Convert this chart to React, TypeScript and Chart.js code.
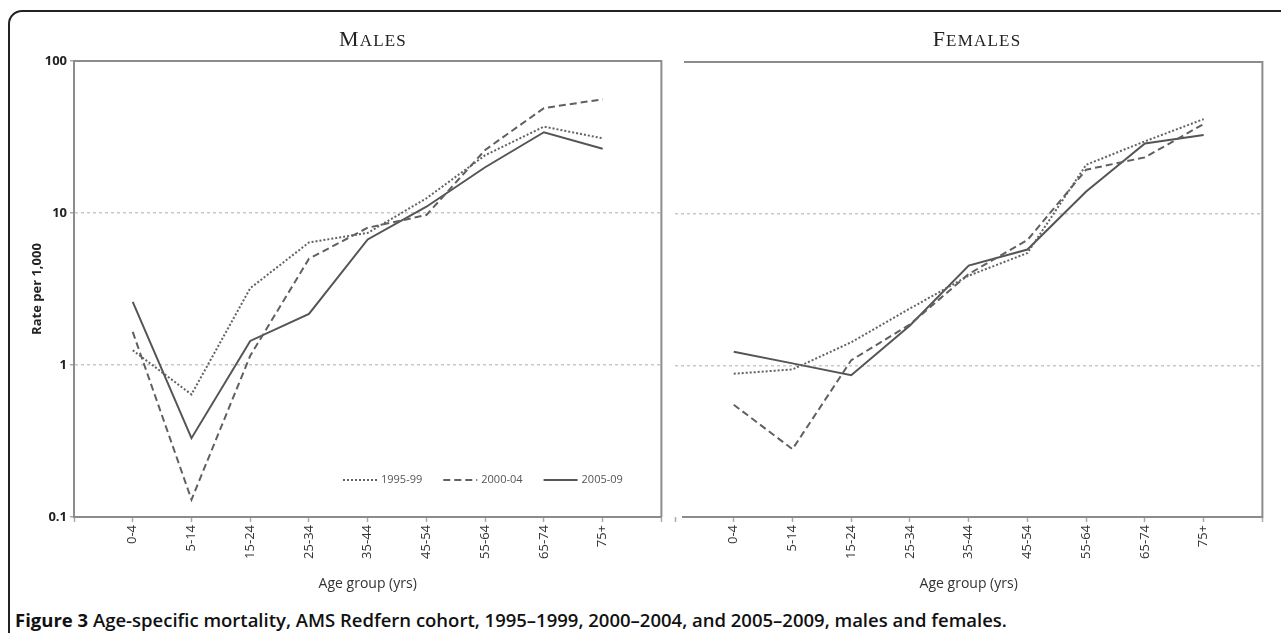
import React, { useEffect, useRef } from 'react';
import { Chart, registerables } from 'chart.js';

Chart.register(...registerables);

// ---------- data ----------
const categories = ['0-4', '5-14', '15-24', '25-34', '35-44', '45-54', '55-64', '65-74', '75+'];
const seriesLabels = ['1995-99', '2000-04', '2005-09'];

const males1995 = [1.25, 0.64, 3.2, 6.4, 7.4, 12.5, 24, 37, 31];
const males2000 = [1.65, 0.13, 1.15, 5.0, 8.0, 9.7, 26, 49, 56];
const males2005 = [2.6, 0.33, 1.44, 2.17, 6.7, 11, 20, 34, 26.5];

const females1995 = [0.88, 0.94, 1.42, 2.37, 3.9, 5.5, 21, 30, 42];
const females2000 = [0.55, 0.28, 1.08, 1.86, 4.0, 6.7, 19.5, 23.5, 39];
const females2005 = [1.23, 1.03, 0.86, 1.83, 4.55, 5.8, 14, 29, 33];

const yTickValues = [0.1, 1, 10, 100];
const yTickLabels = ['0.1', '1', '10', '100'];
const gridValues = [1, 10];

const panelTitles = ['Males', 'Females'];
const xAxisTitle = 'Age group (yrs)';
const yAxisTitle = 'Rate per 1,000';
const captionBold = 'Figure 3';
const captionText =
  ' Age-specific mortality, AMS Redfern cohort, 1995\u20131999, 2000\u20132004, and 2005\u20132009, males and females.';

// ---------- styles ----------
const SANS = '"Open Sans", "DejaVu Sans", sans-serif';
const SERIF = '"Liberation Serif", "DejaVu Serif", serif';
const AXIS_GRAY = '#8c8c8c';
const seriesStyles = [
  { color: '#626262', dash: [2, 2], width: 2 },
  { color: '#606060', dash: [7, 4], width: 2 },
  { color: '#555555', dash: [] as number[], width: 2 },
];

const CANVAS_H = 600;
const PLOT_BOTTOM = 517;

const framePlugin = {
  id: 'frame',
  afterDraw(chart: any, _args: any, opts: any) {
    const { ctx, chartArea } = chart;
    const { left, right, top, bottom } = chartArea;
    ctx.save();
    ctx.strokeStyle = opts.color;
    ctx.lineWidth = opts.width;
    ctx.setLineDash([]);
    ctx.beginPath();
    if (opts.top != null) {
      ctx.moveTo(left + opts.top, top);
      ctx.lineTo(right + 1, top);
    }
    if (opts.right) {
      ctx.moveTo(right, top);
      ctx.lineTo(right, bottom);
    }
    if (opts.bottom != null) {
      ctx.moveTo(left + opts.bottom, bottom);
      ctx.lineTo(right + 1, bottom);
    }
    ctx.stroke();
    ctx.restore();
  },
};

const insideLegend = {
  id: 'insideLegend',
  afterDraw(chart: any, _args: any, opts: any) {
    if (!opts || !opts.display) return;
    const { ctx } = chart;
    ctx.save();
    ctx.font = `${opts.fontSize}px ${SANS}`;
    ctx.textBaseline = 'middle';
    ctx.textAlign = 'left';
    let x = opts.x;
    const y = opts.y;
    chart.data.datasets.forEach((ds: any) => {
      ctx.strokeStyle = ds.borderColor;
      ctx.lineWidth = ds.borderWidth;
      ctx.setLineDash(ds.borderDash || []);
      ctx.beginPath();
      ctx.moveTo(x, y);
      ctx.lineTo(x + opts.sample, y);
      ctx.stroke();
      ctx.setLineDash([]);
      ctx.fillStyle = opts.color;
      ctx.fillText(ds.label, x + opts.sample + opts.gap, y);
      x += opts.sample + opts.gap + ctx.measureText(ds.label).width + opts.spacing;
    });
    ctx.restore();
  },
};

function buildConfig(series: number[][], isLeft: boolean): any {
  const datasets = series.map((vals, i) => ({
    label: seriesLabels[i],
    data: vals.map((v, j) => ({ x: j, y: v })),
    borderColor: seriesStyles[i].color,
    borderWidth: seriesStyles[i].width,
    borderDash: seriesStyles[i].dash,
    borderCapStyle: 'butt',
    pointRadius: 0,
    tension: 0,
    fill: false,
  }));
  return {
    type: 'line',
    data: { datasets },
    plugins: [framePlugin, insideLegend],
    options: {
      animation: false,
      responsive: false,
      events: [],
      layout: {
        padding: isLeft
          ? { left: 0, top: 61, right: 8, bottom: 0 }
          : { left: 1, top: 62, right: 8, bottom: 0 },
      },
      plugins: {
        legend: { display: false },
        tooltip: { enabled: false },
        title: { display: false },
        frame: isLeft
          ? { color: AXIS_GRAY, width: 2, top: 0, right: true }
          : { color: AXIS_GRAY, width: 2, top: 9, right: true, bottom: 7 },
        insideLegend: isLeft
          ? { display: true, x: 343, y: 480, sample: 34, gap: 4, spacing: 21, fontSize: 11, color: '#555' }
          : { display: false },
      },
      scales: {
        x: {
          type: 'linear',
          min: -1,
          max: 9,
          afterBuildTicks: (s: any) => {
            const t = [{ value: -1 }];
            categories.forEach((_c, i) => t.push({ value: i }));
            t.push({ value: 9 });
            s.ticks = t;
          },
          afterFit: (s: any) => {
            s.height = CANVAS_H - PLOT_BOTTOM;
          },
          ticks: {
            autoSkip: false,
            maxRotation: 90,
            minRotation: 90,
            padding: 3,
            color: '#333',
            font: { family: SANS, size: 13 },
            callback: (v: number) => (categories[v] !== undefined ? categories[v] : ''),
          },
          grid: {
            drawOnChartArea: false,
            drawTicks: true,
            tickLength: 5,
            tickColor: '#aaa',
            tickWidth: 1.5,
          },
          border: { display: isLeft, color: AXIS_GRAY, width: 2 },
          title: {
            display: true,
            text: xAxisTitle,
            color: '#333',
            font: { family: SANS, size: 14 },
            padding: { top: 0, bottom: 8 },
          },
        },
        y: {
          type: 'logarithmic',
          min: 0.1,
          max: 100,
          afterBuildTicks: (s: any) => {
            s.ticks = yTickValues.map((v) => ({ value: v }));
          },
          afterFit: (s: any) => {
            s.width = isLeft ? 74 : 0;
          },
          ticks: {
            display: isLeft,
            padding: 3,
            color: '#222',
            font: { family: SANS, size: 13, weight: 'bold' },
            callback: (v: number) => {
              const k = yTickValues.indexOf(v);
              return k >= 0 ? yTickLabels[k] : '';
            },
          },
          grid: {
            color: (c: any) =>
              c.tick && gridValues.indexOf(c.tick.value) >= 0 ? '#c8c8c8' : 'rgba(0,0,0,0)',
            lineWidth: 1.5,
            drawTicks: isLeft,
            tickLength: 4,
            tickColor: '#aaa',
          },
          border: { display: isLeft, color: AXIS_GRAY, width: 2, dash: [3, 3] },
          title: {
            display: isLeft,
            text: yAxisTitle,
            color: '#222',
            font: { family: SANS, size: 13, weight: 'bold' },
            padding: { top: 29, bottom: 0 },
          },
        },
      },
    },
  };
}

function Panel(props: { series: number[][]; isLeft: boolean; left: number; width: number }) {
  const ref = useRef<HTMLCanvasElement | null>(null);
  useEffect(() => {
    if (!ref.current) return;
    const chart = new Chart(ref.current, buildConfig(props.series, props.isLeft));
    return () => chart.destroy();
  }, []);
  return (
    <canvas
      ref={ref}
      width={props.width}
      height={CANVAS_H}
      style={{ position: 'absolute', left: props.left, top: 0, width: props.width, height: CANVAS_H }}
    />
  );
}

function SmallCaps(props: { text: string; center: number; width: number }) {
  const first = props.text.charAt(0).toUpperCase();
  const rest = props.text.slice(1).toUpperCase();
  return (
    <div
      style={{
        position: 'absolute',
        left: props.center - props.width / 2,
        width: props.width,
        top: 26,
        textAlign: 'center',
        fontFamily: SERIF,
        color: '#222',
        letterSpacing: '1.2px',
        lineHeight: '26px',
        whiteSpace: 'nowrap',
      }}
    >
      <span style={{ fontSize: 22 }}>{first}</span>
      <span style={{ fontSize: 17 }}>{rest}</span>
    </div>
  );
}

export default function App() {
  return (
    <div
      style={{
        position: 'absolute',
        left: 0,
        top: 0,
        width: 1281,
        height: 633,
        overflow: 'hidden',
        background: '#fff',
      }}
    >
      <div
        style={{
          position: 'absolute',
          left: 8,
          top: 10,
          width: 1300,
          height: 700,
          border: '2px solid #222',
          borderRadius: 14,
          boxSizing: 'border-box',
        }}
      />
      <Panel series={[males1995, males2000, males2005]} isLeft={true} left={0} width={680} />
      <Panel series={[females1995, females2000, females2005]} isLeft={false} left={672} width={609} />
      <SmallCaps text={panelTitles[0]} center={373} width={300} />
      <SmallCaps text={panelTitles[1]} center={977} width={300} />
      <div
        style={{
          position: 'absolute',
          left: 15,
          top: 608,
          fontFamily: SANS,
          fontSize: 18.5,
          fontWeight: 600,
          lineHeight: '24px',
          color: '#111',
          whiteSpace: 'nowrap',
        }}
      >
        <span style={{ fontWeight: 'bold' }}>{captionBold}</span>
        <span>{captionText}</span>
      </div>
    </div>
  );
}
